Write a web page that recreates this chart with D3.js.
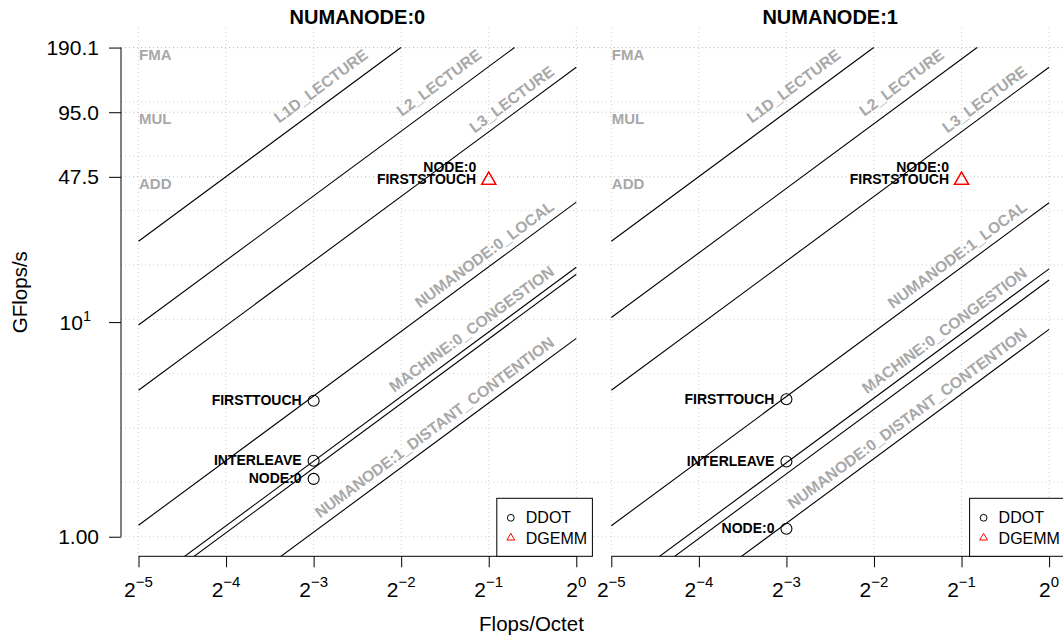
<!DOCTYPE html>
<html><head><meta charset="utf-8">
<script src="https://cdn.jsdelivr.net/npm/d3@7"></script>
<style>body{margin:0;background:#fff} svg{display:block;font-family:"Liberation Sans",Arial,Helvetica,sans-serif}</style>
</head><body><svg id="c" width="1063" height="639"></svg>
<script>
// ---------------- data ----------------
const panelTitles = ["NUMANODE:0", "NUMANODE:1"];
const xTickValues = [1/32, 1/16, 1/8, 1/4, 1/2, 1];
const xTickExponents = ["−5", "−4", "−3", "−2", "−1", "0"];
const yTickValues = [1, 10, 47.5, 95.0, 190.1];
const yTickLabels = ["1.00", "10|1", "47.5", "95.0", "190.1"];
const peakNames = ["FMA", "MUL", "ADD"];
const peakValues = [190.1, 95.0, 47.5];

const roofNames0 = ["L1D_LECTURE", "L2_LECTURE", "L3_LECTURE", "NUMANODE:0_LOCAL", "MACHINE:0_CONGESTION", "", "NUMANODE:1_DISTANT_CONTENTION"];
const roofBandwidth0 = [762, 310, 154, 36.2, 18.0, 16.7, 8.4];
const roofNames1 = ["L1D_LECTURE", "L2_LECTURE", "L3_LECTURE", "NUMANODE:1_LOCAL", "MACHINE:0_CONGESTION", "", "NUMANODE:0_DISTANT_CONTENTION"];
const roofBandwidth1 = [762, 336, 154, 36.0, 17.7, 15.7, 9.25];

const ddotLabels = ["FIRSTTOUCH", "INTERLEAVE", "NODE:0"];
const ddotIntensity = [0.125, 0.125, 0.125];
const ddotPerf0 = [4.30, 2.26, 1.86];
const ddotPerf1 = [4.37, 2.24, 1.09];

const dgemmLabels = ["FIRSTSTOUCH", "NODE:0"];
const dgemmIntensity = [0.5, 0.5];
const dgemmPerf0 = [46.3, 46.3];
const dgemmPerf1 = [46.3, 46.3];

const legendLabels = ["DDOT", "DGEMM"];

const panels = [
  {title: panelTitles[0], roofNames: roofNames0, roofBw: roofBandwidth0, ddot: ddotPerf0, dgemm: dgemmPerf0},
  {title: panelTitles[1], roofNames: roofNames1, roofBw: roofBandwidth1, ddot: ddotPerf1, dgemm: dgemmPerf1}
];

// ---------------- layout ----------------
const svg = d3.select("#c");
const plotTop = 28, plotBottom = 556.3;
const panelLeft = [121, 593.8], panelWidth = 472.8;
const GRID = "#cfcfcf", LABEL_GRAY = "#a8a8a8";
const padY = (plotBottom - plotTop) * 0.04 / 1.08;
const yMax = d3.max(peakValues);
const y = d3.scaleLog().domain([yTickValues[0], yMax]).range([plotBottom - padY, plotTop + padY]);
const defs = svg.append("defs");

panels.forEach((P, p) => {
  const L = panelLeft[p], R = L + panelWidth;
  const padX = panelWidth * 0.04 / 1.08;
  const x = d3.scaleLog().base(2).domain([xTickValues[0], xTickValues[xTickValues.length - 1]]).range([L + padX, R - padX]);
  defs.append("clipPath").attr("id", "clip" + p).append("rect")
    .attr("x", L).attr("y", plotTop).attr("width", panelWidth).attr("height", plotBottom - plotTop);
  const g = svg.append("g");
  const gc = g.append("g").attr("clip-path", `url(#clip${p})`);

  // vertical grid
  gc.selectAll(".vg").data(xTickValues).join("line")
    .attr("x1", d => x(d)).attr("x2", d => x(d)).attr("y1", plotTop).attr("y2", plotBottom)
    .attr("stroke", GRID).attr("stroke-dasharray", "1,3");
  // horizontal grid (equally spaced in log space)
  const lo = Math.log10(yTickValues[0]), hi = Math.log10(yMax);
  const hg = d3.range(10).map(i => Math.pow(10, lo + (hi - lo) * i / 9));
  gc.selectAll(".hg").data(hg).join("line")
    .attr("x1", L).attr("x2", R).attr("y1", d => y(d)).attr("y2", d => y(d))
    .attr("stroke", GRID).attr("stroke-dasharray", "1,3");
  // peak lines
  gc.selectAll(".pk").data(peakValues).join("line")
    .attr("x1", L).attr("x2", R).attr("y1", d => y(d)).attr("y2", d => y(d))
    .attr("stroke", "#bdbdbd").attr("stroke-dasharray", "1,3");
  g.selectAll(".pkl").data(peakNames).join("text")
    .attr("x", x(xTickValues[0]) + 0.5).attr("y", (d, i) => y(peakValues[i]) + 12)
    .attr("font-size", 15).attr("font-weight", "bold").attr("fill", LABEL_GRAY).text(d => d);

  // rooflines
  const xs = xTickValues[0], xEndMax = xTickValues[xTickValues.length - 1];
  P.roofBw.forEach((bw, i) => {
    const xe = Math.min(xEndMax, yMax / bw);
    const x1 = x(xs), y1 = y(bw * xs), x2 = x(xe), y2 = y(bw * xe);
    gc.append("line").attr("x1", x1).attr("y1", y1).attr("x2", x2).attr("y2", y2)
      .attr("stroke", "#000").attr("stroke-width", 1.1);
    const name = P.roofNames[i];
    if (name) {
      const s = (y2 - y1) / (x2 - x1);
      const capped = xe < xEndMax;
      const back = capped ? 32 : 21, up = capped ? 14 : 9;
      const ax = x2 - back, ay = y2 - s * back - up;
      const ang = Math.atan2(y2 - y1, x2 - x1) * 180 / Math.PI;
      g.append("text").attr("transform", `translate(${ax},${ay}) rotate(${ang})`)
        .attr("text-anchor", "end").attr("font-size", 15.6).attr("font-weight", "bold")
        .attr("fill", LABEL_GRAY).text(name);
    }
  });

  // x axis
  const xa = g.append("g").attr("transform", `translate(0,${plotBottom})`)
    .call(d3.axisBottom(x).tickValues(xTickValues).tickSize(11).tickFormat(""));
  xa.select(".domain").remove();
  xa.selectAll(".tick line").attr("stroke", "#000");
  xa.append("line").attr("x1", x(xTickValues[0])).attr("x2", x(xEndMax)).attr("stroke", "#000");
  xTickValues.forEach((v, i) => {
    const t = xa.append("text").attr("x", x(v)).attr("y", 40.5).attr("text-anchor", "middle")
      .attr("fill", "#000").attr("font-size", 21);
    t.append("tspan").text("2");
    t.append("tspan").attr("font-size", 15).attr("dy", -9.5).text(xTickExponents[i]);
  });

  // y axis (left panel only)
  if (p === 0) {
    const ya = g.append("g").attr("transform", `translate(${L},0)`)
      .call(d3.axisLeft(y).tickValues(yTickValues).tickSize(12).tickFormat(""));
    ya.select(".domain").remove();
    ya.selectAll(".tick line").attr("stroke", "#000");
    ya.append("line").attr("y1", y(yTickValues[0])).attr("y2", y(yMax)).attr("stroke", "#000");
    yTickValues.forEach((v, i) => {
      const lab = yTickLabels[i];
      const t = ya.append("text").attr("x", -22).attr("y", y(v) + 7.5).attr("text-anchor", "end")
        .attr("font-size", 21).attr("fill", "#000");
      if (lab.includes("|")) {
        const [b, e] = lab.split("|");
        t.attr("x", -30);
        t.append("tspan").text(b);
        t.append("tspan").attr("font-size", 14.5).attr("dy", -9).text(e);
      } else t.text(lab);
    });
  }

  // DDOT points
  ddotLabels.forEach((lab, i) => {
    const px = x(ddotIntensity[i]), py = y(P.ddot[i]);
    g.append("circle").attr("cx", px).attr("cy", py).attr("r", 5.5)
      .attr("fill", "none").attr("stroke", "#000").attr("stroke-width", 1.1);
    g.append("text").attr("x", px - 12).attr("y", py + 4.5).attr("text-anchor", "end")
      .attr("font-size", 14).attr("font-weight", "bold").attr("fill", "#000").text(lab);
  });
  // DGEMM points (stack labels of coincident points)
  const seen = {};
  dgemmLabels.forEach((lab, i) => {
    const px = x(dgemmIntensity[i]), py = y(P.dgemm[i]);
    const key = px.toFixed(1) + "," + py.toFixed(1);
    const k = seen[key] || 0; seen[key] = k + 1;
    g.append("path").attr("transform", `translate(${px},${py + 1})`)
      .attr("d", d3.symbol(d3.symbolTriangle, 88)()).attr("fill", "none")
      .attr("stroke", "#ff0000").attr("stroke-width", 1.2);
    g.append("text").attr("x", px - 12.5).attr("y", py + 5 - 12 * k).attr("text-anchor", "end")
      .attr("font-size", 14).attr("font-weight", "bold").attr("fill", "#000").text(lab);
  });

  // legend
  const lg = g.append("g").attr("transform", `translate(${R - 97},${plotBottom - 58})`);
  lg.append("rect").attr("width", 95.6).attr("height", 58).attr("fill", "#fff").attr("stroke", "#000");
  lg.append("circle").attr("cx", 14).attr("cy", 19.5).attr("r", 3.4).attr("fill", "none").attr("stroke", "#000");
  lg.append("path").attr("transform", "translate(14,39.5)").attr("d", d3.symbol(d3.symbolTriangle, 26)())
    .attr("fill", "none").attr("stroke", "#ff0000");
  lg.selectAll(".lt").data(legendLabels).join("text")
    .attr("x", 29).attr("y", (d, i) => 25 + i * 20.5).attr("font-size", 16).attr("fill", "#000").text(d => d);

  // title
  svg.append("text").attr("x", L + panelWidth / 2).attr("y", 24).attr("text-anchor", "middle")
    .attr("font-size", 20).attr("font-weight", "bold").attr("fill", "#000").text(P.title);
});

// axis titles
svg.append("text").attr("x", 531.5).attr("y", 631).attr("text-anchor", "middle")
  .attr("font-size", 20.5).attr("fill", "#000").text("Flops/Octet");
svg.append("text").attr("transform", `translate(27,${(plotTop + plotBottom) / 2}) rotate(-90)`)
  .attr("text-anchor", "middle").attr("font-size", 20.5).attr("fill", "#000").text("GFlops/s");
</script></body></html>
